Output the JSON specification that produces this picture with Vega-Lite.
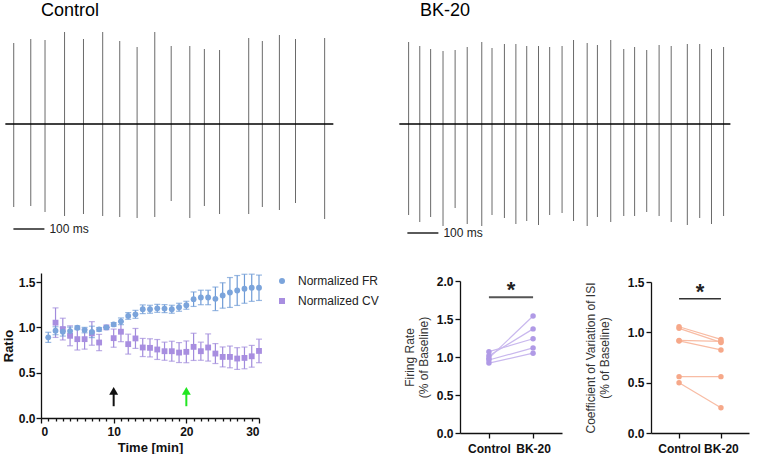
{
  "$schema": "https://vega.github.io/schema/vega-lite/v6.json",
  "padding": {"left": 2, "top": 2, "right": 0, "bottom": 0},
  "background": "white",
  "config": {
    "view": {"stroke": null},
    "font": "Liberation Sans",
    "axis": {"grid": false, "domainColor": "#111", "tickColor": "#111", "labelColor": "#111", "labelFont": "Liberation Sans", "labelFontWeight": "bold", "labelFontSize": 12, "titleFont": "Liberation Sans", "titleColor": "#111", "titleFontSize": 12, "domainWidth": 1.3, "tickWidth": 1.3, "tickSize": 5},
    "legend": {"labelFont": "Liberation Sans", "labelFontSize": 12, "labelColor": "#222"}
  },
  "resolve": {"scale": {"color": "independent", "shape": "independent"}, "legend": {"color": "independent", "shape": "independent"}},
  "datasets": {
    "ctrl_spikes": [
      {"t": 27, "lo": -83, "hi": 81}, {"t": 82, "lo": -82, "hi": 85}, {"t": 128, "lo": -88, "hi": 84},
      {"t": 191, "lo": -92, "hi": 92}, {"t": 252, "lo": -90, "hi": 85}, {"t": 314, "lo": -92, "hi": 92},
      {"t": 369, "lo": -93, "hi": 83}, {"t": 425, "lo": -94, "hi": 77}, {"t": 482, "lo": -93, "hi": 92},
      {"t": 535, "lo": -77, "hi": 78}, {"t": 595, "lo": -94, "hi": 78}, {"t": 642, "lo": -82, "hi": 75},
      {"t": 691, "lo": -90, "hi": 74}, {"t": 785, "lo": -90, "hi": 86}, {"t": 829, "lo": -83, "hi": 83},
      {"t": 884, "lo": -86, "hi": 89}, {"t": 936, "lo": -79, "hi": 85}, {"t": 1030, "lo": -95, "hi": 86}
    ],
    "ctrl_base": [{"t": 0, "t_end": 1058, "lo": 0}],
    "ctrl_bar": [{"t": 26, "t_end": 126, "lo": -105, "label": "100 ms"}],
    "bk_spikes": [
      {"t": 30, "lo": -91, "hi": 82}, {"t": 66, "lo": -98, "hi": 78}, {"t": 101, "lo": -93, "hi": 75},
      {"t": 141, "lo": -102, "hi": 73}, {"t": 180, "lo": -84, "hi": 74}, {"t": 219, "lo": -100, "hi": 77},
      {"t": 266, "lo": -102, "hi": 82}, {"t": 299, "lo": -91, "hi": 76}, {"t": 339, "lo": -94, "hi": 80},
      {"t": 376, "lo": -100, "hi": 80}, {"t": 411, "lo": -97, "hi": 78}, {"t": 449, "lo": -101, "hi": 78},
      {"t": 485, "lo": -91, "hi": 77}, {"t": 525, "lo": -89, "hi": 78}, {"t": 562, "lo": -97, "hi": 84},
      {"t": 606, "lo": -102, "hi": 81}, {"t": 639, "lo": -93, "hi": 79}, {"t": 682, "lo": -98, "hi": 84},
      {"t": 724, "lo": -92, "hi": 75}, {"t": 759, "lo": -92, "hi": 77}, {"t": 798, "lo": -88, "hi": 74},
      {"t": 838, "lo": -92, "hi": 79}, {"t": 877, "lo": -98, "hi": 78}, {"t": 929, "lo": -101, "hi": 80},
      {"t": 969, "lo": -94, "hi": 80}, {"t": 1007, "lo": -100, "hi": 75}, {"t": 1046, "lo": -92, "hi": 77}
    ],
    "bk_base": [{"t": 0, "t_end": 1068, "lo": 0}],
    "bk_bar": [{"t": 26, "t_end": 126, "lo": -109, "label": "100 ms"}],
    "ts": [
      {"series": "Normalized CV", "t": 2, "v": 1.052, "lo": 0.889, "hi": 1.215},
      {"series": "Normalized CV", "t": 3, "v": 0.981, "lo": 0.861, "hi": 1.101},
      {"series": "Normalized CV", "t": 4, "v": 0.907, "lo": 0.797, "hi": 1.017},
      {"series": "Normalized CV", "t": 5, "v": 0.87, "lo": 0.75, "hi": 0.99},
      {"series": "Normalized CV", "t": 6, "v": 0.87, "lo": 0.76, "hi": 0.98},
      {"series": "Normalized CV", "t": 7, "v": 0.933, "lo": 0.803, "hi": 1.063},
      {"series": "Normalized CV", "t": 8, "v": 0.833, "lo": 0.743, "hi": 0.923},
      {"series": "Normalized CV", "t": 9, "v": 1.0, "lo": 1.0, "hi": 1.0},
      {"series": "Normalized CV", "t": 10, "v": 0.881, "lo": 0.781, "hi": 0.981},
      {"series": "Normalized CV", "t": 11, "v": 0.952, "lo": 0.842, "hi": 1.062},
      {"series": "Normalized CV", "t": 12, "v": 0.815, "lo": 0.705, "hi": 0.925},
      {"series": "Normalized CV", "t": 13, "v": 0.878, "lo": 0.768, "hi": 0.988},
      {"series": "Normalized CV", "t": 14, "v": 0.778, "lo": 0.678, "hi": 0.878},
      {"series": "Normalized CV", "t": 15, "v": 0.774, "lo": 0.674, "hi": 0.874},
      {"series": "Normalized CV", "t": 16, "v": 0.756, "lo": 0.646, "hi": 0.866},
      {"series": "Normalized CV", "t": 17, "v": 0.737, "lo": 0.637, "hi": 0.837},
      {"series": "Normalized CV", "t": 18, "v": 0.737, "lo": 0.627, "hi": 0.847},
      {"series": "Normalized CV", "t": 19, "v": 0.722, "lo": 0.612, "hi": 0.832},
      {"series": "Normalized CV", "t": 20, "v": 0.73, "lo": 0.61, "hi": 0.85},
      {"series": "Normalized CV", "t": 21, "v": 0.785, "lo": 0.635, "hi": 0.935},
      {"series": "Normalized CV", "t": 22, "v": 0.737, "lo": 0.637, "hi": 0.837},
      {"series": "Normalized CV", "t": 23, "v": 0.778, "lo": 0.628, "hi": 0.928},
      {"series": "Normalized CV", "t": 24, "v": 0.711, "lo": 0.601, "hi": 0.821},
      {"series": "Normalized CV", "t": 25, "v": 0.674, "lo": 0.564, "hi": 0.784},
      {"series": "Normalized CV", "t": 26, "v": 0.674, "lo": 0.554, "hi": 0.794},
      {"series": "Normalized CV", "t": 27, "v": 0.656, "lo": 0.536, "hi": 0.776},
      {"series": "Normalized CV", "t": 28, "v": 0.663, "lo": 0.543, "hi": 0.783},
      {"series": "Normalized CV", "t": 29, "v": 0.681, "lo": 0.561, "hi": 0.801},
      {"series": "Normalized CV", "t": 30, "v": 0.74, "lo": 0.61, "hi": 0.87},
      {"series": "Normalized FR", "t": 1, "v": 0.89, "lo": 0.834, "hi": 0.946},
      {"series": "Normalized FR", "t": 2, "v": 0.963, "lo": 0.919, "hi": 1.007},
      {"series": "Normalized FR", "t": 3, "v": 0.952, "lo": 0.904, "hi": 1.0},
      {"series": "Normalized FR", "t": 4, "v": 0.959, "lo": 0.915, "hi": 1.003},
      {"series": "Normalized FR", "t": 5, "v": 0.996, "lo": 0.976, "hi": 1.016},
      {"series": "Normalized FR", "t": 6, "v": 0.97, "lo": 0.94, "hi": 1.0},
      {"series": "Normalized FR", "t": 7, "v": 0.95, "lo": 0.887, "hi": 1.013},
      {"series": "Normalized FR", "t": 8, "v": 0.978, "lo": 0.958, "hi": 0.998},
      {"series": "Normalized FR", "t": 9, "v": 1.0, "lo": 1.0, "hi": 1.0},
      {"series": "Normalized FR", "t": 10, "v": 1.033, "lo": 1.013, "hi": 1.053},
      {"series": "Normalized FR", "t": 11, "v": 1.067, "lo": 1.03, "hi": 1.104},
      {"series": "Normalized FR", "t": 12, "v": 1.126, "lo": 1.089, "hi": 1.163},
      {"series": "Normalized FR", "t": 13, "v": 1.144, "lo": 1.1, "hi": 1.188},
      {"series": "Normalized FR", "t": 14, "v": 1.2, "lo": 1.152, "hi": 1.248},
      {"series": "Normalized FR", "t": 15, "v": 1.2, "lo": 1.156, "hi": 1.244},
      {"series": "Normalized FR", "t": 16, "v": 1.21, "lo": 1.166, "hi": 1.254},
      {"series": "Normalized FR", "t": 17, "v": 1.207, "lo": 1.163, "hi": 1.251},
      {"series": "Normalized FR", "t": 18, "v": 1.2, "lo": 1.156, "hi": 1.244},
      {"series": "Normalized FR", "t": 19, "v": 1.222, "lo": 1.178, "hi": 1.266},
      {"series": "Normalized FR", "t": 20, "v": 1.244, "lo": 1.2, "hi": 1.288},
      {"series": "Normalized FR", "t": 21, "v": 1.311, "lo": 1.231, "hi": 1.391},
      {"series": "Normalized FR", "t": 22, "v": 1.33, "lo": 1.25, "hi": 1.41},
      {"series": "Normalized FR", "t": 23, "v": 1.33, "lo": 1.25, "hi": 1.41},
      {"series": "Normalized FR", "t": 24, "v": 1.315, "lo": 1.185, "hi": 1.445},
      {"series": "Normalized FR", "t": 25, "v": 1.352, "lo": 1.212, "hi": 1.492},
      {"series": "Normalized FR", "t": 26, "v": 1.385, "lo": 1.22, "hi": 1.55},
      {"series": "Normalized FR", "t": 27, "v": 1.407, "lo": 1.242, "hi": 1.572},
      {"series": "Normalized FR", "t": 28, "v": 1.426, "lo": 1.266, "hi": 1.586},
      {"series": "Normalized FR", "t": 29, "v": 1.437, "lo": 1.287, "hi": 1.587},
      {"series": "Normalized FR", "t": 30, "v": 1.437, "lo": 1.297, "hi": 1.577}
    ],
    "arrows": [
      {"t": 10, "v": 0.13, "head": 0.3, "kind": "wash"},
      {"t": 20, "v": 0.13, "head": 0.3, "kind": "drug"}
    ],
    "fr_pairs": [
      {"id": 1, "cond": "Control", "v": 0.985}, {"id": 1, "cond": "BK-20", "v": 1.54},
      {"id": 2, "cond": "Control", "v": 1.015}, {"id": 2, "cond": "BK-20", "v": 1.37},
      {"id": 3, "cond": "Control", "v": 1.07}, {"id": 3, "cond": "BK-20", "v": 1.24},
      {"id": 4, "cond": "Control", "v": 0.96}, {"id": 4, "cond": "BK-20", "v": 1.12},
      {"id": 5, "cond": "Control", "v": 0.92}, {"id": 5, "cond": "BK-20", "v": 1.05}
    ],
    "cv_pairs": [
      {"id": 1, "cond": "Control", "v": 1.055}, {"id": 1, "cond": "BK-20", "v": 0.93},
      {"id": 2, "cond": "Control", "v": 1.04}, {"id": 2, "cond": "BK-20", "v": 0.9},
      {"id": 3, "cond": "Control", "v": 0.92}, {"id": 3, "cond": "BK-20", "v": 0.91},
      {"id": 4, "cond": "Control", "v": 0.915}, {"id": 4, "cond": "BK-20", "v": 0.825},
      {"id": 5, "cond": "Control", "v": 0.56}, {"id": 5, "cond": "BK-20", "v": 0.56},
      {"id": 6, "cond": "Control", "v": 0.5}, {"id": 6, "cond": "BK-20", "v": 0.25}
    ],
    "fr_sig": [{"cond": "Control", "cond2": "BK-20", "v": 1.785, "star": 1.88, "label": "*"}],
    "cv_sig": [{"cond": "Control", "cond2": "BK-20", "v": 1.333, "star": 1.4, "label": "*"}],
    "empty": []
  },
  "spacing": 31,
  "vconcat": [
    {
      "spacing": 9,
      "hconcat": [
        {
          "width": 330, "height": 218,
          "title": {"text": "Control", "anchor": "start", "frame": "group", "dx": 0, "fontSize": 18, "fontWeight": "normal", "offset": 4, "color": "#000"},
          "encoding": {
            "x": {"field": "t", "type": "quantitative", "scale": {"domain": [115, 1179.5], "nice": false, "zero": false}, "axis": null},
            "y": {"field": "lo", "type": "quantitative", "scale": {"domain": [-118, 100], "nice": false, "zero": false}, "axis": null}
          },
          "layer": [
            {"data": {"name": "ctrl_spikes"}, "mark": {"type": "rule", "color": "#6a6a6a", "strokeWidth": 1}, "encoding": {"y2": {"field": "hi"}}},
            {"data": {"name": "ctrl_base"}, "mark": {"type": "rule", "color": "#000", "strokeWidth": 1.6}, "encoding": {"x2": {"field": "t_end"}}},
            {"data": {"name": "ctrl_bar"}, "mark": {"type": "rule", "color": "#000", "strokeWidth": 1.3}, "encoding": {"x2": {"field": "t_end"}}},
            {"data": {"name": "ctrl_bar"}, "mark": {"type": "text", "align": "left", "baseline": "middle", "dx": 5, "fontSize": 12, "color": "#222"}, "encoding": {"x": {"field": "t_end", "type": "quantitative"}, "text": {"field": "label"}}}
          ]
        },
        {
          "width": 370, "height": 218,
          "title": {"text": "BK-20", "anchor": "start", "frame": "group", "dx": 40, "fontSize": 18, "fontWeight": "normal", "offset": 4, "color": "#000"},
          "encoding": {
            "x": {"field": "t", "type": "quantitative", "scale": {"domain": [-62.3, 1131.2], "nice": false, "zero": false}, "axis": null},
            "y": {"field": "lo", "type": "quantitative", "scale": {"domain": [-118, 100], "nice": false, "zero": false}, "axis": null}
          },
          "layer": [
            {"data": {"name": "bk_spikes"}, "mark": {"type": "rule", "color": "#6a6a6a", "strokeWidth": 1}, "encoding": {"y2": {"field": "hi"}}},
            {"data": {"name": "bk_base"}, "mark": {"type": "rule", "color": "#000", "strokeWidth": 1.6}, "encoding": {"x2": {"field": "t_end"}}},
            {"data": {"name": "bk_bar"}, "mark": {"type": "rule", "color": "#000", "strokeWidth": 1.3}, "encoding": {"x2": {"field": "t_end"}}},
            {"data": {"name": "bk_bar"}, "mark": {"type": "text", "align": "left", "baseline": "middle", "dx": 5, "fontSize": 12, "color": "#222"}, "encoding": {"x": {"field": "t_end", "type": "quantitative"}, "text": {"field": "label"}}}
          ]
        }
      ]
    },
    {
      "spacing": 22,
      "resolve": {"scale": {"color": "independent", "shape": "independent"}, "legend": {"color": "independent", "shape": "independent"}},
      "hconcat": [
        {
          "width": 218, "height": 145,
          "encoding": {
            "x": {"field": "t", "type": "quantitative", "scale": {"domain": [0, 30], "nice": false, "zero": false},
                  "axis": {"values": [0,1,2,3,4,5,6,7,8,9,10,11,12,13,14,15,16,17,18,19,20,21,22,23,24,25,26,27,28,29,30],
                           "labelExpr": "datum.value % 10 === 0 ? datum.label : ''",
                           "tickSize": {"condition": {"test": "datum.value % 10 === 0", "value": 5}, "value": 3},
                           "labelPadding": 3, "title": "Time [min]", "titleFontWeight": "bold", "titleFontSize": 13, "titlePadding": 4}},
            "y": {"field": "v", "type": "quantitative", "title": "Ratio", "scale": {"domain": [0, 1.6], "nice": false},
                  "axis": {"values": [0, 0.5, 1, 1.5], "format": ".1f", "titleFontWeight": "bold", "titleFontSize": 13, "titlePadding": 3, "labelPadding": 1}}
          },
          "layer": [
            {"data": {"name": "ts"}, "transform": [{"filter": "datum.series === 'Normalized CV'"}],
             "mark": {"type": "errorbar", "color": "#a18bdc", "thickness": 1.2, "ticks": {"size": 6, "thickness": 1.2}},
             "encoding": {"y": {"field": "lo", "type": "quantitative", "title": "Ratio"}, "y2": {"field": "hi"}}},
            {"data": {"name": "ts"}, "transform": [{"filter": "datum.series === 'Normalized FR'"}],
             "mark": {"type": "errorbar", "color": "#6f9bd6", "thickness": 1.2, "ticks": {"size": 6, "thickness": 1.2}},
             "encoding": {"y": {"field": "lo", "type": "quantitative", "title": "Ratio"}, "y2": {"field": "hi"}}},
            {"data": {"name": "ts"}, "mark": {"type": "point", "filled": true, "opacity": 1, "size": 34},
             "encoding": {
               "color": {"field": "series", "type": "nominal", "scale": {"domain": ["Normalized FR", "Normalized CV"], "range": ["#7ba4db", "#a88ee0"]},
                         "legend": {"title": null, "offset": 15, "padding": 2, "symbolSize": 36, "labelOffset": 10, "rowPadding": 8, "labelFontSize": 12}},
               "shape": {"field": "series", "type": "nominal", "scale": {"domain": ["Normalized FR", "Normalized CV"], "range": ["circle", "square"]},
                         "legend": {"title": null, "offset": 15, "padding": 2, "symbolSize": 36, "labelOffset": 10, "rowPadding": 8, "labelFontSize": 12}}
             }},
            {"data": {"name": "arrows"}, "transform": [{"filter": "datum.kind === 'wash'"}], "mark": {"type": "rule", "strokeWidth": 2, "color": "#111"},
             "encoding": {"y2": {"field": "head"}}},
            {"data": {"name": "arrows"}, "transform": [{"filter": "datum.kind === 'wash'"}], "mark": {"type": "point", "shape": "triangle-up", "filled": true, "opacity": 1, "size": 80, "color": "#111"},
             "encoding": {"y": {"field": "head", "type": "quantitative", "title": "Ratio"}}},
            {"data": {"name": "arrows"}, "transform": [{"filter": "datum.kind === 'drug'"}], "mark": {"type": "rule", "strokeWidth": 2, "color": "#22e622"},
             "encoding": {"y2": {"field": "head"}}},
            {"data": {"name": "arrows"}, "transform": [{"filter": "datum.kind === 'drug'"}], "mark": {"type": "point", "shape": "triangle-up", "filled": true, "opacity": 1, "size": 80, "color": "#22e622"},
             "encoding": {"y": {"field": "head", "type": "quantitative", "title": "Ratio"}}}
          ]
        },
        {
          "spacing": 0,
          "vconcat": [
            {"width": 102, "height": 2, "data": {"name": "empty"}, "mark": "point"},
            {
              "width": 102, "height": 152,
              "encoding": {
                "x": {"field": "cond", "type": "nominal", "scale": {"type": "point", "domain": ["Control", "BK-20"], "padding": 0.655},
                      "axis": {"title": null, "labelAngle": 0, "labelPadding": 5}},
                "y": {"field": "v", "type": "quantitative", "scale": {"domain": [0, 2], "nice": false},
                      "axis": {"values": [0, 0.5, 1, 1.5, 2], "format": ".1f", "title": ["Firing Rate", "(% of Baseline)"], "titleFontWeight": "normal", "titleColor": "#333", "titleFontSize": 12, "titleLineHeight": 14, "titlePadding": 6, "labelPadding": 2}}
              },
              "layer": [
                {"data": {"name": "fr_pairs"}, "mark": {"type": "line", "color": "#c9b8ee", "strokeWidth": 1.2}, "encoding": {"detail": {"field": "id", "type": "nominal"}}},
                {"data": {"name": "fr_pairs"}, "mark": {"type": "point", "filled": true, "opacity": 1, "size": 30, "color": "#b09ae6"}, "encoding": {}},
                {"data": {"name": "fr_sig"}, "mark": {"type": "rule", "color": "#555", "strokeWidth": 2}, "encoding": {"x2": {"field": "cond2"}}},
                {"data": {"name": "fr_sig"}, "mark": {"type": "text", "fontSize": 22, "fontWeight": "bold", "color": "#222", "dx": 22, "baseline": "middle"},
                 "encoding": {"y": {"field": "star", "type": "quantitative"}, "text": {"field": "label"}}}
              ]
            }
          ]
        },
        {
          "spacing": 0,
          "vconcat": [
            {"width": 98, "height": 3, "data": {"name": "empty"}, "mark": "point"},
            {
              "width": 98, "height": 151,
              "encoding": {
                "x": {"field": "cond", "type": "nominal", "scale": {"type": "point", "domain": ["Control", "BK-20"], "padding": 0.67},
                      "axis": {"title": null, "labelAngle": 0, "labelPadding": 5}},
                "y": {"field": "v", "type": "quantitative", "scale": {"domain": [0, 1.5], "nice": false},
                      "axis": {"values": [0, 0.5, 1, 1.5], "format": ".1f", "title": ["Coefficient of Variation of ISI", "(% of Baseline)"], "titleFontWeight": "normal", "titleColor": "#333", "titleFontSize": 12, "titleLineHeight": 14, "titlePadding": 16, "labelPadding": 2}}
              },
              "layer": [
                {"data": {"name": "cv_pairs"}, "mark": {"type": "line", "color": "#f8bca4", "strokeWidth": 1.2}, "encoding": {"detail": {"field": "id", "type": "nominal"}}},
                {"data": {"name": "cv_pairs"}, "mark": {"type": "point", "filled": true, "opacity": 1, "size": 30, "color": "#f6a889"}, "encoding": {}},
                {"data": {"name": "cv_sig"}, "mark": {"type": "rule", "color": "#333", "strokeWidth": 1.5}, "encoding": {"x2": {"field": "cond2"}}},
                {"data": {"name": "cv_sig"}, "mark": {"type": "text", "fontSize": 22, "fontWeight": "bold", "color": "#222", "dx": 21, "baseline": "middle"},
                 "encoding": {"y": {"field": "star", "type": "quantitative"}, "text": {"field": "label"}}}
              ]
            }
          ]
        }
      ]
    }
  ]
}
